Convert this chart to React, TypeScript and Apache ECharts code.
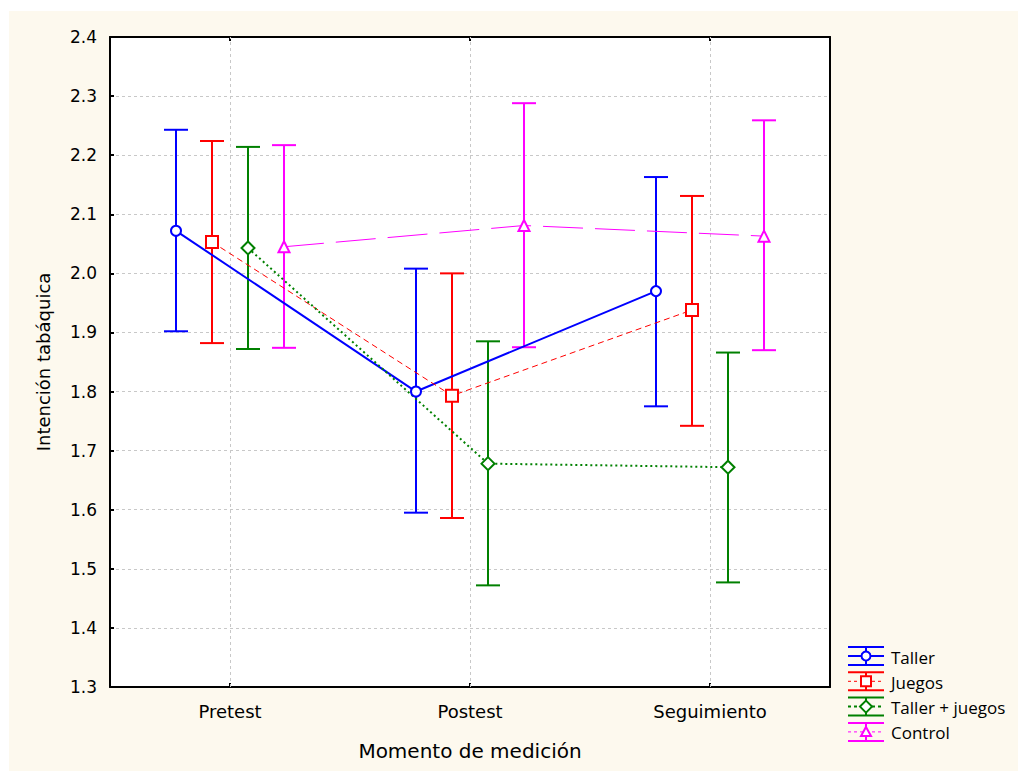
import React, { useEffect, useRef } from "react";
import * as echarts from "echarts";

const categories = ["Pretest", "Postest", "Seguimiento"];
const groupNames = ["Taller", "Juegos", "Taller + juegos", "Control"];

const tallerMean = [2.072, 1.8, 1.97];
const tallerLow = [1.902, 1.595, 1.775];
const tallerHigh = [2.243, 2.008, 2.163];

const juegosMean = [2.053, 1.793, 1.938];
const juegosLow = [1.882, 1.586, 1.742];
const juegosHigh = [2.224, 2.0, 2.131];

const tjMean = [2.043, 1.678, 1.672];
const tjLow = [1.872, 1.472, 1.477];
const tjHigh = [2.214, 1.885, 1.866];

const controlMean = [2.045, 2.081, 2.063];
const controlLow = [1.874, 1.875, 1.87];
const controlHigh = [2.217, 2.288, 2.259];

const yTicks = [1.3, 1.4, 1.5, 1.6, 1.7, 1.8, 1.9, 2.0, 2.1, 2.2, 2.3, 2.4];

const FONT = "DejaVu Sans";
const LEGEND_FONT = "Open Sans";

const styles = [
  { color: "#0000ff", offset: -0.225, symbol: "circle", size: 10, lineType: "solid" as any, lineWidth: 2 },
  { color: "#ff0000", offset: -0.075, symbol: "rect", size: 12, lineType: [6, 4] as any, lineWidth: 1 },
  { color: "#008000", offset: 0.075, symbol: "diamond", size: 13, lineType: [2, 3] as any, lineWidth: 2 },
  { color: "#ff00ff", offset: 0.225, symbol: "triangle", size: 11, lineType: [40, 12] as any, lineWidth: 1 },
];

const means = [tallerMean, juegosMean, tjMean, controlMean];
const lows = [tallerLow, juegosLow, tjLow, controlLow];
const highs = [tallerHigh, juegosHigh, tjHigh, controlHigh];

function legendGraphic() {
  const children: any[] = [];
  const x0 = 848;
  const x1 = 884;
  const xc = 866;
  groupNames.forEach((name, i) => {
    const st = styles[i];
    const yc = 656 + i * 25.3;
    const stroke = { stroke: st.color, lineWidth: 2 };
    children.push({ type: "line", shape: { x1: x0, y1: yc - 9, x2: x1, y2: yc - 9 }, style: stroke });
    children.push({ type: "line", shape: { x1: x0, y1: yc + 9, x2: x1, y2: yc + 9 }, style: stroke });
    children.push({ type: "line", shape: { x1: xc, y1: yc - 9, x2: xc, y2: yc + 9 }, style: stroke });
    children.push({
      type: "line",
      shape: { x1: x0, y1: yc, x2: x1, y2: yc },
      style: { stroke: st.color, lineWidth: st.lineWidth, lineDash: Array.isArray(st.lineType) ? [3, 3] : null },
    });
    const mk = { fill: "#fff", stroke: st.color, lineWidth: 2 };
    if (i === 0) children.push({ type: "circle", shape: { cx: xc, cy: yc, r: 4.5 }, style: mk, z: 10 });
    if (i === 1) children.push({ type: "rect", shape: { x: xc - 5, y: yc - 5, width: 10, height: 10 }, style: mk, z: 10 });
    if (i === 2)
      children.push({
        type: "polygon",
        shape: { points: [[xc, yc - 6], [xc + 6, yc], [xc, yc + 6], [xc - 6, yc]] },
        style: mk,
        z: 10,
      });
    if (i === 3)
      children.push({
        type: "polygon",
        shape: { points: [[xc, yc - 5], [xc + 5, yc + 4], [xc - 5, yc + 4]] },
        style: mk,
        z: 10,
      });
    children.push({
      type: "text",
      x: 891,
      y: yc + 1,
      style: { text: name, fill: "#000", font: `17px '${LEGEND_FONT}'`, verticalAlign: "middle" },
    });
  });
  return children;
}

export default function App() {
  const ref = useRef<HTMLDivElement>(null);
  useEffect(() => {
    if (!ref.current) return;
    const chart = echarts.init(ref.current, null, { renderer: "svg" });
    const series: any[] = [];
    // vertical grid lines at category centres
    series.push({
      type: "line",
      name: "vgrid",
      xAxisIndex: 0,
      yAxisIndex: 0,
      data: [],
      z: 1,
      silent: true,
      markLine: {
        silent: true,
        symbol: ["none", "none"],
        label: { show: false },
        lineStyle: { color: "#c8c8c8", type: [3, 3], width: 1 },
        emphasis: { disabled: true },
        data: categories.map((_, i) => ({ xAxis: i })),
      },
    });
    styles.forEach((st, gi) => {
      series.push({
        type: "custom",
        name: groupNames[gi] + " err",
        xAxisIndex: 0,
        yAxisIndex: 0,
        z: 2,
        data: categories.map((_, i) => [i + st.offset, lows[gi][i], highs[gi][i]]),
        encode: { x: 0, y: [1, 2] },
        renderItem: (params: any, api: any) => {
          const x = api.value(0);
          const top = api.coord([x, api.value(2)]);
          const bot = api.coord([x, api.value(1)]);
          const hw = 12;
          const s = { stroke: st.color, lineWidth: 2, fill: null };
          return {
            type: "group",
            children: [
              { type: "line", shape: { x1: top[0], y1: top[1], x2: bot[0], y2: bot[1] }, style: s },
              { type: "line", shape: { x1: top[0] - hw, y1: top[1], x2: top[0] + hw, y2: top[1] }, style: s },
              { type: "line", shape: { x1: bot[0] - hw, y1: bot[1], x2: bot[0] + hw, y2: bot[1] }, style: s },
            ],
          };
        },
      });
    });
    styles.forEach((st, gi) => {
      series.push({
        type: "line",
        name: groupNames[gi],
        xAxisIndex: 0,
        yAxisIndex: 0,
        z: 5,
        data: categories.map((_, i) => [i + st.offset, means[gi][i]]),
        symbol: st.symbol,
        symbolSize: st.size,
        showAllSymbol: true,
        itemStyle: { color: "#fff", borderColor: st.color, borderWidth: 2 },
        lineStyle: { color: st.color, width: st.lineWidth, type: st.lineType },
        emphasis: { disabled: true },
      });
    });

    const gridLine = { color: "#c8c8c8", type: [3, 3], width: 1 };
    chart.setOption({
      animation: false,
      backgroundColor: "#ffffff",
      grid: {
        left: 110,
        top: 37,
        right: 188,
        bottom: 84,
        show: true,
        backgroundColor: "#ffffff",
        borderWidth: 0,
      },
      graphic: [
        {
          type: "rect",
          z: -10,
          silent: true,
          shape: { x: 9, y: 11, width: 1009, height: 760 },
          style: { fill: "#fdf9ee" },
        },
        ...legendGraphic(),
      ],
      xAxis: [
        {
          type: "value",
          min: -0.5,
          max: 2.5,
          show: false,
        },
        {
          type: "category",
          data: categories,
          boundaryGap: true,
          position: "bottom",
          axisLine: { show: true, onZero: false, lineStyle: { color: "#000", width: 2 } },
          axisTick: { show: true, inside: true, alignWithLabel: true, length: 4, lineStyle: { color: "#000", width: 2 } },
          axisLabel: { color: "#000", fontFamily: FONT, fontSize: 18, margin: 15 },
          splitLine: { show: false },
          name: "Momento de medición",
          nameLocation: "middle",
          nameGap: 54,
          nameTextStyle: { color: "#000", fontFamily: FONT, fontSize: 20 },
        },
        {
          type: "category",
          data: categories,
          boundaryGap: true,
          position: "top",
          axisLine: { show: true, onZero: false, lineStyle: { color: "#000", width: 2 } },
          axisTick: { show: true, inside: true, alignWithLabel: true, length: 4, lineStyle: { color: "#000", width: 2 } },
          axisLabel: { show: false },
          splitLine: { show: false },
        },
      ],
      yAxis: [
        {
          type: "value",
          min: 1.3,
          max: 2.4,
          interval: 0.1,
          axisLine: { show: true, onZero: false, lineStyle: { color: "#000", width: 2 } },
          axisTick: { show: true, inside: true, length: 4, lineStyle: { color: "#000", width: 2 } },
          axisLabel: {
            color: "#000",
            fontFamily: FONT,
            fontSize: 17,
            margin: 13,
            formatter: (v: number) => {
              const t = yTicks.find((k) => Math.abs(k - v) < 1e-6);
              return (t ?? v).toFixed(1);
            },
          },
          splitLine: {
            show: true,
            showMinLine: false,
            showMaxLine: false,
            lineStyle: gridLine,
          },
          name: "Intención tabáquica",
          nameLocation: "middle",
          nameGap: 58,
          nameTextStyle: { color: "#000", fontFamily: FONT, fontSize: 18 },
        },
        {
          type: "value",
          min: 1.3,
          max: 2.4,
          interval: 0.1,
          position: "right",
          axisLine: { show: true, onZero: false, lineStyle: { color: "#000", width: 2 } },
          axisTick: { show: false },
          axisLabel: { show: false },
          splitLine: { show: false },
        },
      ],
      series,
    });
    return () => chart.dispose();
  }, []);
  return (
    <div
      ref={ref}
      style={{ position: "fixed", left: 0, top: 0, width: 1018, height: 771 }}
    />
  );
}
